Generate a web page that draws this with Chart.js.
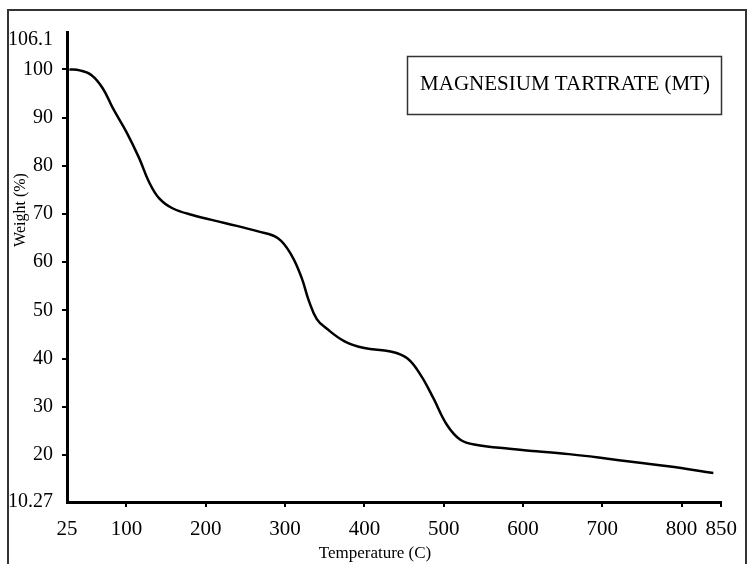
<!DOCTYPE html>
<html><head><meta charset="utf-8">
<script src="https://cdn.jsdelivr.net/npm/chart.js@4/dist/chart.umd.min.js"></script>
<style>html,body{margin:0;padding:0;background:#fff;} #wrap{width:747px;height:564px;position:relative;}</style>
</head><body><div id="wrap"><canvas id="c" width="747" height="564"></canvas></div>
<script>
// ---- data ----
const temperatures = [28, 41, 56, 70, 83, 100, 116, 128, 141, 158, 183, 225, 266, 291, 308, 321, 330, 340, 352, 375, 400, 433, 454, 471, 487, 504, 521, 542, 583, 617, 658, 700, 742, 783, 840];
const weights      = [100.0, 99.8, 98.8, 96.1, 91.9, 87.0, 81.6, 76.8, 73.3, 71.2, 69.8, 68.1, 66.4, 65.0, 61.5, 56.7, 52.0, 48.2, 46.3, 43.6, 42.2, 41.5, 40.1, 36.6, 31.8, 26.3, 23.2, 22.1, 21.3, 20.8, 20.2, 19.4, 18.5, 17.7, 16.3];
const xTicks = [25, 100, 200, 300, 400, 500, 600, 700, 800, 850];
const yTicks = [10.27, 20, 30, 40, 50, 60, 70, 80, 90, 100, 106.1];
const seriesLabel = 'MAGNESIUM TARTRATE (MT)';
const xTitle = 'Temperature (C)';
const yTitle = 'Weight (%)';

const SERIF = "'Liberation Serif', 'Times New Roman', serif";
Chart.defaults.font.family = SERIF;
Chart.defaults.color = '#000';

function alignPx(p, w) { return Math.round(p - w / 2) + w / 2; }

const decor = {
  id: 'decor',
  afterDraw(chart) {
    const ctx = chart.ctx;
    const ca = chart.chartArea;
    ctx.save();
    // outer frame
    ctx.strokeStyle = '#333';
    ctx.lineWidth = 2;
    ctx.beginPath();
    ctx.moveTo(8, 564); ctx.lineTo(8, 10); ctx.lineTo(746, 10); ctx.lineTo(746, 564);
    ctx.stroke();
    // y axis line continues above the top value
    const yScale = chart.scales.y;
    const bx = alignPx(yScale.right, 3);
    ctx.strokeStyle = '#000';
    ctx.lineWidth = 3;
    ctx.beginPath();
    ctx.moveTo(bx, 31); ctx.lineTo(bx, ca.top + 1);
    ctx.stroke();
    // series label box
    ctx.strokeStyle = '#333';
    ctx.lineWidth = 1.5;
    ctx.strokeRect(407.5, 56.5, 314, 58);
    ctx.fillStyle = '#000';
    ctx.font = '21px ' + SERIF;
    ctx.textAlign = 'center';
    ctx.textBaseline = 'alphabetic';
    ctx.fillText(chart.data.datasets[0].label, 565, 89.5);
    // axis titles
    ctx.font = '17px ' + SERIF;
    ctx.fillText(xTitle, 375, 558);
    ctx.save();
    ctx.translate(25, 210);
    ctx.rotate(-Math.PI / 2);
    ctx.font = '16px ' + SERIF;
    ctx.fillText(yTitle, 0, 0);
    ctx.restore();
    ctx.restore();
  }
};

const points = temperatures.map((t, i) => ({ x: t, y: weights[i] }));

new Chart(document.getElementById('c').getContext('2d'), {
  type: 'line',
  data: { datasets: [{
    label: seriesLabel,
    data: points,
    borderColor: '#000',
    borderWidth: 2.5,
    pointRadius: 0,
    fill: false,
    tension: 0.4
  }]},
  options: {
    responsive: false,
    animation: false,
    devicePixelRatio: 1,
    layout: { padding: { top: 40, right: 22, bottom: 0, left: 0 } },
    plugins: { legend: { display: false }, tooltip: { enabled: false } },
    scales: {
      x: {
        type: 'linear', min: 25, max: 850,
        afterBuildTicks: s => { s.ticks = xTicks.map(v => ({ value: v })); },
        afterFit: s => { s.height = 62; },
        border: { display: true, color: '#000', width: 3 },
        grid: {
          display: true, drawOnChartArea: false, drawTicks: true, tickLength: 5, lineWidth: 2,
          color: c => (c.tick && c.tick.value === 25) ? 'rgba(0,0,0,0)' : '#000'
        },
        ticks: { autoSkip: false, maxRotation: 0, padding: 10, color: '#000', font: { size: 21 },
                 callback: v => String(v) }
      },
      y: {
        type: 'linear', min: 10.27, max: 106.1,
        afterBuildTicks: s => { s.ticks = yTicks.map(v => ({ value: v })); },
        afterFit: s => { s.width = 67; },
        border: { display: true, color: '#000', width: 3 },
        grid: {
          display: true, drawOnChartArea: false, drawTicks: true, tickLength: 5, lineWidth: 2,
          color: c => (c.tick && (c.tick.value === 10.27 || c.tick.value === 106.1)) ? 'rgba(0,0,0,0)' : '#000'
        },
        ticks: { autoSkip: false, padding: 9, color: '#000', font: { size: 20 },
                 callback: v => String(v) }
      }
    }
  },
  plugins: [decor]
});
</script>
</body></html>
